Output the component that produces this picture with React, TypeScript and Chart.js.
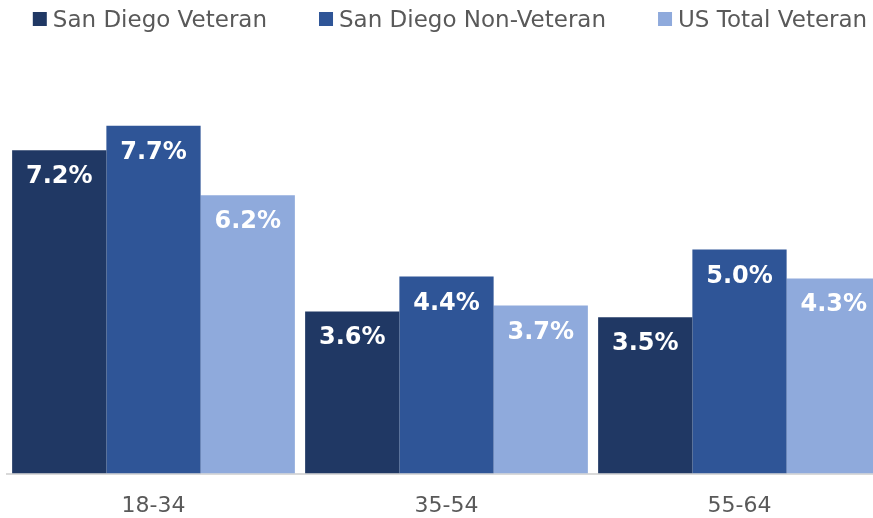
import React, { useEffect, useRef } from "react";
import { Chart, registerables } from "chart.js";

Chart.register(...registerables);

const categories = ["18-34", "35-54", "55-64"];
const seriesNames = ["San Diego Veteran", "San Diego Non-Veteran", "US Total Veteran"];
const sdVeteran = [7.16, 3.59, 3.46];
const sdNonVeteran = [7.7, 4.36, 4.96];
const usTotalVeteran = [6.16, 3.72, 4.32];
const seriesColors = ["#203864", "#2F5597", "#8FAADC"];

const FONT = "'DejaVu Sans', Verdana, sans-serif";

const legendPlugin = {
  id: "customLegend",
  afterDraw(chart: any) {
    const ctx = chart.ctx;
    ctx.save();
    ctx.font = `23px ${FONT}`;
    const box = 14;
    const gapBoxText = 6;
    const gapItems = 52;
    const items = chart.data.datasets.map((ds: any) => ({
      label: ds.label,
      color: ds.backgroundColor,
      w: ctx.measureText(ds.label).width,
    }));
    const total =
      items.reduce((s: number, it: any) => s + box + gapBoxText + it.w, 0) +
      gapItems * (items.length - 1);
    let x = 450 - total / 2;
    for (const it of items) {
      ctx.fillStyle = it.color;
      ctx.fillRect(x, 12, box, box);
      ctx.fillStyle = "#595959";
      ctx.textBaseline = "alphabetic";
      ctx.textAlign = "left";
      ctx.fillText(it.label, x + box + gapBoxText, 27);
      x += box + gapBoxText + it.w + gapItems;
    }
    ctx.restore();
  },
};

const labelPlugin = {
  id: "barLabels",
  afterDatasetsDraw(chart: any) {
    const ctx = chart.ctx;
    ctx.save();
    ctx.font = `bold 24px ${FONT}`;
    ctx.fillStyle = "#FFFFFF";
    ctx.textAlign = "center";
    ctx.textBaseline = "alphabetic";
    chart.data.datasets.forEach((ds: any, di: number) => {
      const meta = chart.getDatasetMeta(di);
      meta.data.forEach((bar: any, i: number) => {
        const v = ds.data[i];
        ctx.fillText(v.toFixed(1) + "%", bar.x, bar.y + 33);
      });
    });
    ctx.restore();
  },
};

export default function App() {
  const ref = useRef<HTMLCanvasElement | null>(null);
  useEffect(() => {
    if (!ref.current) return;
    const data = [sdVeteran, sdNonVeteran, usTotalVeteran];
    const chart = new Chart(ref.current, {
      type: "bar",
      data: {
        labels: categories,
        datasets: seriesNames.map((name, i) => ({
          label: name,
          data: data[i],
          backgroundColor: seriesColors[i],
          borderWidth: 0,
          categoryPercentage: 0.965,
          barPercentage: 1,
        })),
      },
      options: {
        animation: false,
        responsive: true,
        maintainAspectRatio: false,
        layout: { padding: { top: 67, left: 7, right: 7, bottom: 0 } },
        plugins: {
          legend: { display: false },
          tooltip: { enabled: false },
        },
        scales: {
          x: {
            grid: { display: false, drawTicks: false },
            border: { display: true, color: "#D9D9D9", width: 2 },
            ticks: {
              color: "#595959",
              font: { family: FONT, size: 22 },
              padding: 19,
            },
          },
          y: {
            display: false,
            min: 0,
            max: 9,
          },
        },
      },
      plugins: [legendPlugin, labelPlugin],
    });
    return () => chart.destroy();
  }, []);
  return (
    <div
      style={{
        position: "absolute",
        left: 0,
        top: 0,
        width: 873,
        height: 518,
        overflow: "hidden",
        background: "#FFFFFF",
      }}
    >
      <div style={{ position: "relative", width: 893, height: 538 }}>
        <canvas ref={ref} />
      </div>
    </div>
  );
}
